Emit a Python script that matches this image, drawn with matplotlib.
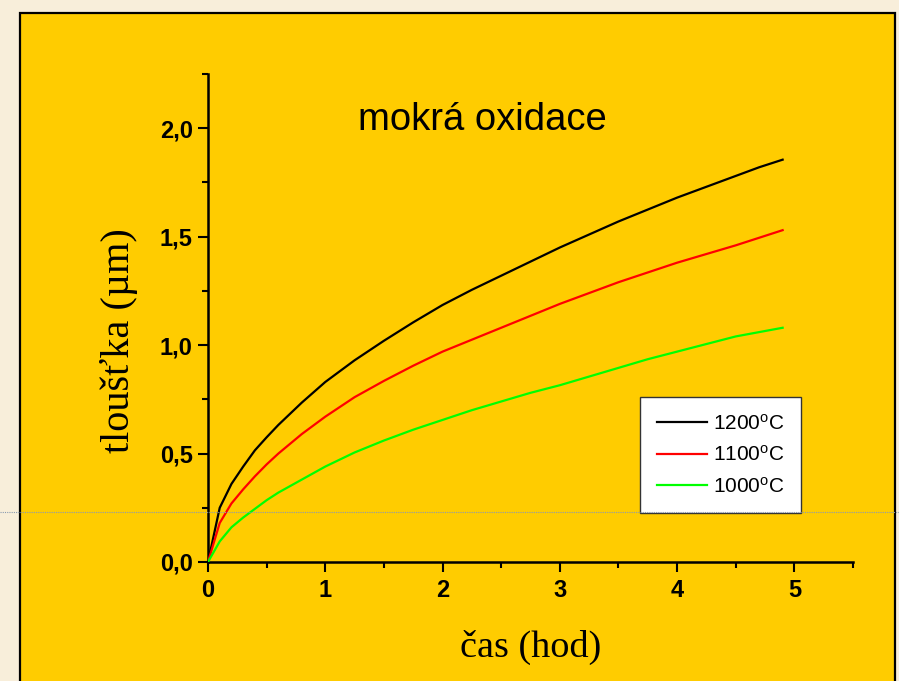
import matplotlib
matplotlib.use("Agg")
import matplotlib.pyplot as plt
from matplotlib.patches import Rectangle
from matplotlib.lines import Line2D
from matplotlib.ticker import MultipleLocator, FuncFormatter

# ---- data ----
time_h = [0, 0.1, 0.2, 0.3, 0.4, 0.5, 0.6, 0.8, 1.0, 1.25, 1.5, 1.75, 2.0, 2.25, 2.5,
          2.75, 3.0, 3.25, 3.5, 3.75, 4.0, 4.25, 4.5, 4.7, 4.9]
t1200 = [0, 0.25, 0.36, 0.44, 0.515, 0.575, 0.632, 0.735, 0.83, 0.93, 1.02, 1.105, 1.185,
         1.255, 1.32, 1.385, 1.45, 1.51, 1.57, 1.625, 1.68, 1.73, 1.78, 1.82, 1.855]
t1100 = [0, 0.18, 0.27, 0.335, 0.395, 0.45, 0.50, 0.59, 0.67, 0.76, 0.835, 0.905, 0.97,
         1.025, 1.08, 1.135, 1.19, 1.24, 1.29, 1.335, 1.38, 1.42, 1.46, 1.495, 1.53]
t1000 = [0, 0.095, 0.16, 0.205, 0.245, 0.285, 0.32, 0.38, 0.44, 0.505, 0.56, 0.61, 0.655,
         0.70, 0.74, 0.78, 0.815, 0.855, 0.895, 0.935, 0.97, 1.005, 1.04, 1.06, 1.08]
series_labels = ["1200$^{\\mathrm{o}}$C", "1100$^{\\mathrm{o}}$C", "1000$^{\\mathrm{o}}$C"]
series_colors = ["#000000", "#FF0000", "#00FF00"]
title_text = "mokrá oxidace"
xlabel_text = "čas (hod)"
ylabel_text = "tloušťka (µm)"

plt.rcParams["mathtext.fontset"] = "custom"
plt.rcParams["mathtext.rm"] = "Liberation Sans"
plt.rcParams["mathtext.it"] = "Liberation Sans:italic"
plt.rcParams["mathtext.bf"] = "Liberation Sans:bold"

W, H = 899, 681
fig = plt.figure(figsize=(W / 100, H / 100), dpi=100)
fig.patch.set_facecolor("#F8EEDA")

# yellow panel with black border
fig.add_artist(Rectangle((20 / W, -0.05), (895 - 20) / W, 1 - 13 / H + 0.05,
                         transform=fig.transFigure, facecolor="#FFCC00",
                         edgecolor="black", linewidth=1.6, zorder=0))

ax = fig.add_axes([208 / W, (H - 562) / H, (853 - 208) / W, (562 - 74) / H])
ax.set_facecolor("none")

for y, c, lab in zip([t1200, t1100, t1000], series_colors, series_labels):
    ax.plot(time_h, y, color=c, linewidth=1.6, label=lab, zorder=3)

ax.set_xlim(0, 5.5)
ax.set_ylim(0, 2.25)

for s in ["top", "right"]:
    ax.spines[s].set_visible(False)
for s in ["left", "bottom"]:
    ax.spines[s].set_linewidth(1.8)

ax.xaxis.set_major_locator(MultipleLocator(1))
ax.xaxis.set_minor_locator(MultipleLocator(0.5))
ax.yaxis.set_major_locator(MultipleLocator(0.5))
ax.yaxis.set_minor_locator(MultipleLocator(0.25))
ax.yaxis.set_major_formatter(FuncFormatter(lambda v, p: f"{v:.1f}".replace(".", ",")))
ax.xaxis.set_major_formatter(FuncFormatter(lambda v, p: f"{v:.0f}"))

ax.tick_params(which="major", direction="out", length=7, width=1.5)
ax.tick_params(which="minor", direction="out", length=4, width=1.5)
ax.tick_params(axis="y", which="major", pad=4)
ax.tick_params(axis="x", which="major", pad=5)
for lab in ax.get_xticklabels() + ax.get_yticklabels():
    lab.set_fontfamily("Liberation Sans")
    lab.set_fontweight("bold")
    lab.set_fontsize(17)

fig.text(482 / W, 1 - 120 / H, title_text, fontsize=27.5, family="Liberation Sans",
         ha="center", va="center")
fig.text(531 / W, 1 - 647 / H, xlabel_text, fontsize=27.5, family="Liberation Serif",
         ha="center", va="center")
fig.text(119 / W, 1 - 341 / H, ylabel_text, fontsize=29, family="Liberation Serif",
         ha="center", va="center", rotation=90)

leg = ax.legend(loc="upper left", bbox_to_anchor=(640 / W, 1 - 397 / H),
                bbox_transform=fig.transFigure, borderaxespad=0,
                prop={"family": "Liberation Sans", "size": 15},
                frameon=True, fancybox=False, handlelength=2.4,
                handletextpad=0.3, labelspacing=0.55, borderpad=0.8)
leg.get_frame().set_edgecolor("#333333")
leg.get_frame().set_linewidth(1.0)
leg.get_frame().set_facecolor("white")
leg.get_frame().set_alpha(1)
leg.set_zorder(5)

# thin dotted horizontal line across figure
fig.add_artist(Line2D([0, 1], [1 - 512 / H, 1 - 512 / H], transform=fig.transFigure,
                      color="#8A9AB0", linewidth=0.8, linestyle=(0, (1, 1)), zorder=10))

fig.savefig("out.png", dpi=100, facecolor=fig.get_facecolor())
